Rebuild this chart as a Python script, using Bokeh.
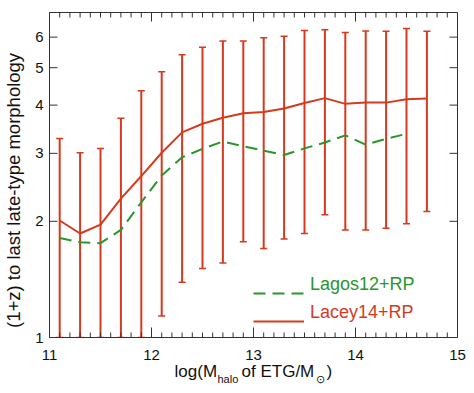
import math
from bokeh.plotting import figure
from bokeh.models import (ColumnDataSource, Whisker, TeeHead, FixedTicker,
                          LinearAxis, Legend, LegendItem, Range1d)
from bokeh.embed import file_html
from bokeh.resources import INLINE

# ---- data ----
lacey_mass = [11.1, 11.3, 11.5, 11.7, 11.9, 12.1, 12.3, 12.5, 12.7, 12.9,
              13.1, 13.3, 13.5, 13.7, 13.9, 14.1, 14.3, 14.5, 14.7]
lacey_median = [2.01, 1.86, 1.96, 2.29, 2.62, 3.01, 3.40, 3.58, 3.71, 3.81,
                3.84, 3.92, 4.05, 4.17, 4.03, 4.06, 4.06, 4.14, 4.16]
lacey_upper = [3.28, 3.01, 3.09, 3.70, 4.36, 4.88, 5.40, 5.65, 5.86, 5.86,
               5.98, 6.03, 6.24, 6.27, 6.17, 6.22, 6.21, 6.32, 6.21]
lacey_lower = [1.0, 1.0, 1.0, 1.0, 1.0, 1.136, 1.39, 1.51, 1.56, 1.77,
               1.70, 1.80, 1.86, 2.08, 1.90, 1.90, 1.92, 1.97, 2.12]

lagos_mass = [11.1, 11.3, 11.5, 11.7, 11.9, 12.1, 12.3, 12.5, 12.7, 12.9,
              13.1, 13.3, 13.5, 13.7, 13.9, 14.1, 14.3, 14.5]
lagos_median = [1.81, 1.765, 1.755, 1.90, 2.24, 2.63, 2.93, 3.08, 3.22, 3.13,
                3.05, 2.97, 3.09, 3.20, 3.34, 3.16, 3.27, 3.37]

x_tick_labels = [11, 12, 13, 14, 15]
y_tick_labels = [1, 2, 3, 4, 5, 6]
x_lo, x_hi = 11, 15
y_lo, y_hi = 1, 6.95

RED = "#D63A1E"
GREEN = "#2A962A"
AXC = "#333333"
TXT = "#111111"
FONT = "Liberation Sans"

FW, FH = 408, 325
BL, BR, BT, BB = 49, 17, 12, 56

p = figure(frame_width=FW, frame_height=FH, x_range=Range1d(x_lo, x_hi),
           y_range=Range1d(y_lo, y_hi), y_axis_type="log",
           output_backend="svg", toolbar_location=None,
           min_border_left=BL, min_border_right=BR, min_border_top=BT, min_border_bottom=BB)
p.xgrid.visible = False
p.ygrid.visible = False
p.outline_line_color = AXC
p.outline_line_width = 1
p.background_fill_color = "white"
p.border_fill_color = "white"

# bottom axis: tick labels
xa = p.xaxis[0]
xa.ticker = FixedTicker(ticks=x_tick_labels, minor_ticks=[])
xa.major_tick_in = 0
xa.major_tick_out = 0
xa.minor_tick_in = 0
xa.minor_tick_out = 0
xa.axis_line_color = AXC
xa.major_label_text_font = FONT
xa.major_label_text_font_size = "15px"
xa.major_label_text_color = TXT
xa.major_label_standoff = 12

# left axis
ya = p.yaxis[0]
ya.ticker = FixedTicker(ticks=y_tick_labels, minor_ticks=[])
ya.major_tick_in = 0
ya.major_tick_out = 0
ya.minor_tick_in = 0
ya.minor_tick_out = 0
ya.axis_line_color = AXC
ya.major_label_overrides = {t: str(t) for t in y_tick_labels}
ya.major_label_text_font = FONT
ya.major_label_text_font_size = "15px"
ya.major_label_text_color = TXT
ya.major_label_standoff = 6
ya.axis_label = "(1+z) to last late-type morphology" + "\u00a0" * 6
ya.axis_label_text_font = FONT
ya.axis_label_text_font_size = "18.5px"
ya.axis_label_text_font_style = "normal"
ya.axis_label_text_color = TXT
ya.axis_label_standoff = 8

# ---- tick marks pointing into the frame ----
lx = math.log10(y_lo)
ly = math.log10(y_hi) - lx

def y_from_bottom(px):
    return 10 ** (lx + px / FH * ly)

def x_from_left(px):
    return x_lo + px / FW * (x_hi - x_lo)

x_minor_ticks = [round(x_lo + i * 0.1, 1) for i in range(1, 40) if i % 10]
tick_style = dict(line_color=AXC, line_width=1)
# bottom
p.segment(x0=x_tick_labels, y0=[y_lo] * 5, x1=x_tick_labels, y1=[y_from_bottom(10)] * 5, **tick_style)
p.segment(x0=x_minor_ticks, y0=[y_lo] * len(x_minor_ticks), x1=x_minor_ticks,
          y1=[y_from_bottom(5)] * len(x_minor_ticks), **tick_style)
# top
p.segment(x0=x_tick_labels, y0=[y_hi] * 5, x1=x_tick_labels, y1=[y_from_bottom(FH - 9)] * 5, **tick_style)
p.segment(x0=x_minor_ticks, y0=[y_hi] * len(x_minor_ticks), x1=x_minor_ticks,
          y1=[y_from_bottom(FH - 5)] * len(x_minor_ticks), **tick_style)
# left / right
ny = len(y_tick_labels)
p.segment(x0=[x_lo] * ny, y0=y_tick_labels, x1=[x_from_left(8)] * ny, y1=y_tick_labels, **tick_style)
p.segment(x0=[x_hi] * ny, y0=y_tick_labels, x1=[x_from_left(FW - 8)] * ny, y1=y_tick_labels, **tick_style)

# ---- data marks ----
src = ColumnDataSource(dict(x=lacey_mass, med=lacey_median, hi=lacey_upper, lo=lacey_lower))
wh = Whisker(base="x", upper="hi", lower="lo", source=src, dimension="height",
             line_color=RED, line_width=2,
             upper_head=TeeHead(size=7, line_color=RED, line_width=1.5),
             lower_head=TeeHead(size=7, line_color=RED, line_width=1.5))
p.add_layout(wh)

r_lacey = p.line("x", "med", source=src, line_color=RED, line_width=2)
r_lagos = p.line(lagos_mass, lagos_median, line_color=GREEN, line_width=2, line_dash="12 7")

# ---- legend: sample lines and texts as separate legends ----
def legend_kw():
    return dict(padding=0, margin=0, spacing=0, border_line_color=None,
                background_fill_alpha=0, label_height=20, glyph_height=20)

def glyph_legend(rend, vy):
    return Legend(items=[LegendItem(label="\u00a0", renderers=[rend])], location=(204, vy),
                  glyph_width=51, label_standoff=0, label_text_font_size="1px",
                  label_width=0, **legend_kw())

def text_legend(label, rend, color, vy):
    return Legend(items=[LegendItem(label=label, renderers=[rend])], location=(261, vy),
                  glyph_width=0, label_standoff=0, label_text_color=color,
                  label_text_font=FONT, label_text_font_size="18px", **legend_kw())

p.add_layout(glyph_legend(r_lagos, 34))
p.add_layout(glyph_legend(r_lacey, 6))
p.add_layout(text_legend("Lagos12+RP", r_lagos, GREEN, 42))
p.add_layout(text_legend("Lacey14+RP", r_lacey, RED, 14))

# ---- x axis title: main pieces and subscripts on two label-only axes ----
def dx(px):
    return x_lo + (px - BL) / FW * (x_hi - x_lo)

main_pos = [dx(195.3), dx(277.4), dx(328.8)]
main_txt = ["log(M", "of ETG/M", ")"]
sub_pos = [dx(227.4), dx(319.6)]
sub_txt = ["halo", "\u2299"]

def label_axis(pos, txt, fs, standoff):
    ax = LinearAxis(ticker=FixedTicker(ticks=pos, minor_ticks=[]),
                    major_label_overrides={v: t for v, t in zip(pos, txt)},
                    major_label_text_font=FONT, major_label_text_font_size=fs,
                    major_label_text_color=TXT, major_label_standoff=standoff,
                    axis_line_color=None, major_tick_line_color=None,
                    minor_tick_line_color=None, major_tick_in=0, major_tick_out=0,
                    minor_tick_in=0, minor_tick_out=0)
    p.add_layout(ax, "below")

label_axis(main_pos, main_txt, "17px", -1)
label_axis(sub_pos, sub_txt, "11px", -11)

open("out.html", "w").write(file_html(p, INLINE))
